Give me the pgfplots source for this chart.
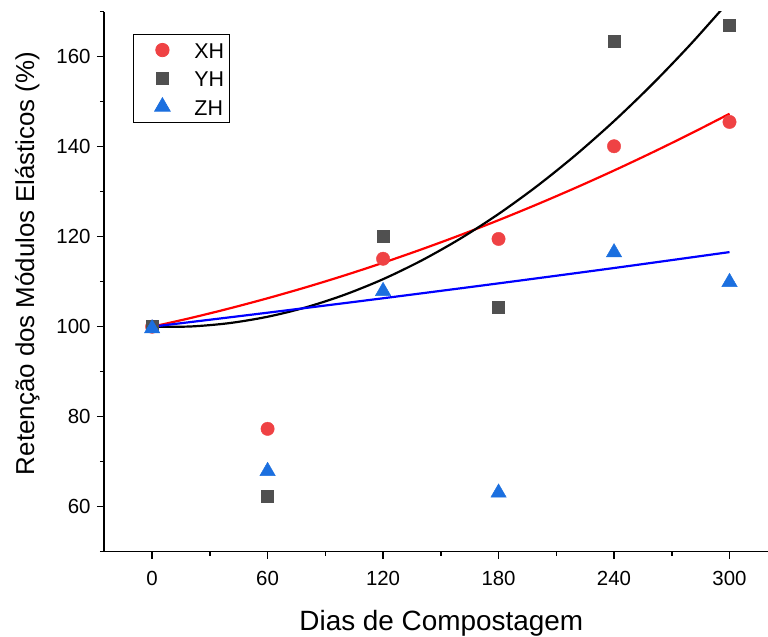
\documentclass[border=0pt]{standalone}
\usepackage{pgfplots}
\pgfplotsset{compat=1.18}
\usepackage{fontspec}
\setmainfont{Liberation Sans}

\definecolor{ptred}{RGB}{239,66,68}
\definecolor{ptgray}{RGB}{80,80,80}
\definecolor{ptblue}{RGB}{27,111,223}

\begin{document}
\begin{tikzpicture}
\useasboundingbox (-104bp,-85.3bp) rectangle (664bp,551.7bp);
\begin{axis}[
  at={(0,0)}, anchor=south west,
  scale only axis, width=664bp, height=540bp,
  xmin=-25, xmax=320, ymin=50, ymax=170,
  axis x line*=bottom, axis y line*=left,
  x axis line style={-, line width=1.5bp},
  y axis line style={-, line width=1.5bp},
  xtick={0,60,...,300}, ytick={60,80,...,160},
  minor xtick={30,90,...,270}, minor ytick={50,70,...,170},
  tick align=outside,
  major tick length=7bp, minor tick length=4bp,
  every tick/.style={black, line width=1.5bp},
  /pgf/number format/assume math mode=true,
  ticklabel style={font=\fontsize{20.5}{20.5}\selectfont},
  xticklabel style={yshift=-9bp},
  yticklabel style={xshift=-3bp},
  xlabel={Dias de Compostagem},
  ylabel={Retenção dos Módulos Elásticos (\%)},
  every axis x label/.style={at={(axis description cs:0.508,-0.145)}, anchor=base,
    font=\fontsize{28}{28}\selectfont},
  every axis y label/.style={at={(axis description cs:-0.1054,0.5339)}, rotate=90, anchor=base,
    font=\fontsize{26}{26}\selectfont},
  legend style={at={(axis description cs:0.0437,0.9587)}, anchor=north west,
    draw=black, line width=0.8bp, font=\fontsize{21.5}{21.5}\selectfont,
    inner xsep=0.5bp, inner ysep=1.5bp, row sep=0bp,
    nodes={inner xsep=5bp, inner ysep=4bp, text height=18.5bp, text depth=1.8bp}},
  legend cell align=left,
  legend image code/.code={%
    \path (0bp,0bp) (55.5bp,0bp);
    \draw[#1] plot coordinates {(28.5bp,0bp)};},
]

% measured retention values
\addplot[only marks, mark=*, mark size=6.7bp, color=ptred, draw=none, fill=ptred]
  coordinates {(0,100) (60,77.3) (120,115.1) (180,119.5) (240,140.1) (300,145.5)};
\addlegendentry{XH}
\addplot[only marks, mark=square*, mark size=6bp, color=ptgray, draw=none, fill=ptgray]
  coordinates {(0,100) (60,62.3) (120,120.2) (180,104.4) (240,163.4) (300,167.1)};
\addlegendentry{YH}
\addplot[only marks, mark=triangle*, mark size=8.9bp, color=ptblue, draw=none, fill=ptblue]
  coordinates {(0,99.6) (60,67.9) (120,107.9) (180,63.1) (240,116.5) (300,109.9)};
\addlegendentry{ZH}

% fitted trends
\addplot[red, line width=2.2bp, smooth, forget plot] coordinates {
  (0,100) (20,101.93) (40,104.04) (60,106.32) (80,108.77) (100,111.40)
  (120,114.21) (140,117.19) (160,120.34) (180,123.67) (200,127.18)
  (220,130.86) (240,134.71) (260,138.74) (280,142.94) (300,147.32)};
\addplot[black, line width=2.2bp, smooth, forget plot] coordinates {
  (0,100) (20,100.05) (40,100.79) (60,102.21) (80,104.31) (100,107.10)
  (120,110.56) (140,114.71) (160,119.54) (180,125.05) (200,131.25)
  (220,138.13) (240,145.69) (260,153.93) (280,162.86) (300,172.47)};
\addplot[blue, line width=2.2bp, smooth, forget plot] coordinates {
  (0,100) (60,103.11) (120,106.32) (180,109.63) (240,113.04) (300,116.58)};
\end{axis}
\end{tikzpicture}
\end{document}
